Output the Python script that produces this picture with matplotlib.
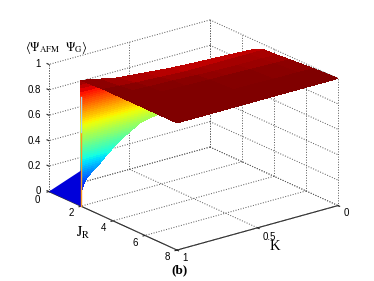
import numpy as np
import matplotlib
matplotlib.use('Agg')
import matplotlib.pyplot as plt
from mpl_toolkits.mplot3d import proj3d
from mpl_toolkits.mplot3d.art3d import Poly3DCollection

plt.rcParams['font.family'] = ['Liberation Sans', 'DejaVu Sans']
plt.rcParams['mathtext.fontset'] = 'stix'

jr_ticks = [0, 2, 4, 6, 8]
k_ticks = [0, 0.5, 1]
z_ticks = [0, 0.2, 0.4, 0.6, 0.8, 1]
jr_ticklabels = ['0', '2', '4', '6', '8']
k_ticklabels = ['0', '0.5', '1']
z_ticklabels = ['0', '0.2', '0.4', '0.6', '0.8', '1']

# flat plateau, one row per K, ridge is the first column
plate_k = [1.0, 0.9, 0.8, 0.65, 0.5, 0.4, 0.25, 0.1, 0.0]
ridge_j = [2.0, 2.1, 2.2, 2.3, 2.4, 2.5, 2.6, 2.7, 2.8]
plate_j = [3.4, 4.2, 5.0, 6.5, 8.0]
ridge_z = [0.99, 0.97, 0.95, 0.94, 0.93, 0.93, 0.93, 0.93, 0.93]
second_z = [1.0, 0.99, 0.98, 0.97, 0.96, 0.96, 0.96, 0.96, 0.96]
third_z = [1.0, 1.0, 0.995, 0.99, 0.98, 0.975, 0.97, 0.97, 0.965]
fourth_z = [1.0, 1.0, 1.0, 0.995, 0.99, 0.99, 0.985, 0.98, 0.975]
fifth_z = [1.0, 1.0, 1.0, 1.0, 1.0, 1.0, 0.995, 0.995, 0.99]
last_z = [1.0, 1.0, 1.0, 1.0, 1.0, 1.0, 1.0, 1.0, 1.0]

# coloured wall at JR=2, lower and upper edges
wall_k = [1.0, 0.994, 0.98, 0.956, 0.92, 0.88, 0.84, 0.79, 0.75, 0.71, 0.67, 0.63, 0.58, 0.52]
wall_low = [0.0, 0.13, 0.18, 0.22, 0.26, 0.30, 0.35, 0.40, 0.44, 0.47, 0.50, 0.53, 0.545, 0.555]
wall_top = [0.99, 0.98, 0.97, 0.96, 0.95, 0.93, 0.92, 0.91, 0.9, 0.9, 0.9, 0.9, 0.9, 0.9]
wall_z = [0.0, 0.05, 0.1, 0.13, 0.145, 0.16, 0.175, 0.19, 0.205, 0.22, 0.235, 0.25, 0.265, 0.28,
          0.295, 0.31, 0.325, 0.34, 0.355, 0.37, 0.385, 0.40, 0.415, 0.43, 0.445, 0.46, 0.475,
          0.49, 0.505, 0.52, 0.535, 0.55, 0.565, 0.58, 0.595, 0.61, 0.625, 0.64, 0.655, 0.67,
          0.685, 0.70, 0.715, 0.73, 0.745, 0.76, 0.775, 0.79, 0.805, 0.82, 0.835, 0.85, 0.865,
          0.88, 0.9, 0.93, 0.96, 0.99]

# blue piece below the transition
blue_k = [1, 1, 1]
blue_j = [0, 2, 2]
blue_z = [0, 0, 0.28]
blue_level = 0.08

# thin step lines at K=1, JR=2
step_low_z = [0, 0.58]
step_high_z = [0.58, 0.86]

fig = plt.figure(figsize=(3.74, 2.81), dpi=100)
ax = fig.add_axes([2.7 / 374, 1.7 / 281, 1, 1], projection='3d', computed_zorder=False)
ax.set_proj_type('ortho')
ax.view_init(elev=20.82, azim=52.13)
ax.set_box_aspect((0.978, 1, 0.652), zoom=1.112)
ax.set_xlim(0, 1, view_margin=0)
ax.set_ylim(0, 8, view_margin=0)
ax.set_zlim(0, 1, view_margin=0)

# ticks, grid and labels are done by hand below, the 3d defaults land too far out
ax.set_xticks([])
ax.set_yticks([])
ax.set_zticks([])
ax.grid(False)

for axis in (ax.xaxis, ax.yaxis, ax.zaxis):
    axis.set_pane_color((1, 1, 1, 0))
    axis.pane.set_edgecolor('none')
ax.xaxis.line.set_color('#222222')
ax.yaxis.line.set_color('#222222')
ax.zaxis.line.set_color('none')

grid_style = dict(color='#555555', lw=0.7, ls=':', zorder=1, clip_on=False)
tick_style = dict(color='#222222', lw=0.8, zorder=1, clip_on=False)
for j in jr_ticks:
    ax.plot([0, 1], [j, j], [0, 0], **grid_style)
    ax.plot([0, 0], [j, j], [0, 1], **grid_style)
    ax.plot([1, 1.012], [j, j], [0, 0], **tick_style)
for k in k_ticks:
    ax.plot([k, k], [0, 8], [0, 0], **grid_style)
    ax.plot([k, k], [0, 0], [0, 1], **grid_style)
    ax.plot([k, k], [8, 8.1], [0, 0], **tick_style)
for z in z_ticks:
    ax.plot([0, 0], [0, 8], [z, z], **grid_style)
    ax.plot([0, 1], [0, 0], [z, z], **grid_style)
    ax.plot([1, 1], [0, -0.12], [z, z], **tick_style)
ax.plot([1, 1], [0, 0], [0, 1], **grid_style)

ax.apply_aspect()
M = ax.get_proj()


def label3d(k, j, z, lab, ha='center'):
    x, y, _ = proj3d.proj_transform(k, j, z, M)
    px, py = ax.transData.transform((x, y))
    fig.text(px / 374, py / 281, lab, fontsize=7, ha=ha, va='center')


for j, lab in zip(jr_ticks, jr_ticklabels):
    if j == 0:
        label3d(1.075, j, -0.037, lab)
    else:
        label3d(1.062, j, -0.035, lab)
for k, lab in zip(k_ticks, k_ticklabels):
    label3d(k, 8.75 if lab == '0.5' else 8.5, -0.03, lab)
for z, lab in zip(z_ticks, z_ticklabels):
    label3d(1, -0.5, z - 0.028, lab, ha='right')

wall_K = np.array(wall_k)[:, None] * np.ones((1, len(wall_z)))
wall_J = 2.0 * np.ones_like(wall_K)
wall_Z = np.maximum(np.array(wall_z)[None, :], np.array(wall_low)[:, None])
wall_Z = np.minimum(wall_Z, np.array(wall_top)[:, None])
ax.plot_surface(wall_K, wall_J, wall_Z, cmap='jet', vmin=0, vmax=1, rstride=1, cstride=1,
                linewidth=0, antialiased=False, shade=False, zorder=2, clip_on=False)

blue_verts = [list(zip(blue_k, blue_j, blue_z))]
ax.add_collection3d(Poly3DCollection(blue_verts, facecolor=plt.cm.jet(blue_level), edgecolor='none', zorder=2))

plate_K = np.array(plate_k)[:, None] * np.ones((1, len(plate_j) + 1))
plate_J = np.column_stack([ridge_j] + [np.full(len(plate_k), j) for j in plate_j])
plate_Z = np.column_stack([ridge_z, second_z, third_z, fourth_z, fifth_z, last_z])
ax.plot_surface(plate_K, plate_J, plate_Z, cmap='jet', vmin=0, vmax=1, rstride=1, cstride=1,
                linewidth=0, antialiased=False, shade=False, zorder=3, clip_on=False)

ax.plot([1, 1], [2, 2], step_low_z, color='#ff9a20', lw=1, zorder=4)
ax.plot([1, 1], [2, 2], step_high_z, color='#a8d8f0', lw=1, zorder=4)

fig.text(25 / 374, 1 - 47 / 281, r'$\langle\Psi_{\mathrm{AFM}}\ \ \Psi_{\mathrm{G}}\rangle$', fontsize=9, va='center')
fig.text(83 / 374, 1 - 233 / 281, r'$\mathrm{J_R}$', fontsize=10.5, ha='center', va='center')
fig.text(275 / 374, 1 - 247 / 281, 'K', fontsize=10.5, family='Liberation Serif', ha='center', va='center')
fig.text(179 / 374, 1 - 270 / 281, '(b)', fontsize=9.5, family='Liberation Serif', weight='bold', ha='center', va='center')

fig.savefig('out.png', dpi=100)
